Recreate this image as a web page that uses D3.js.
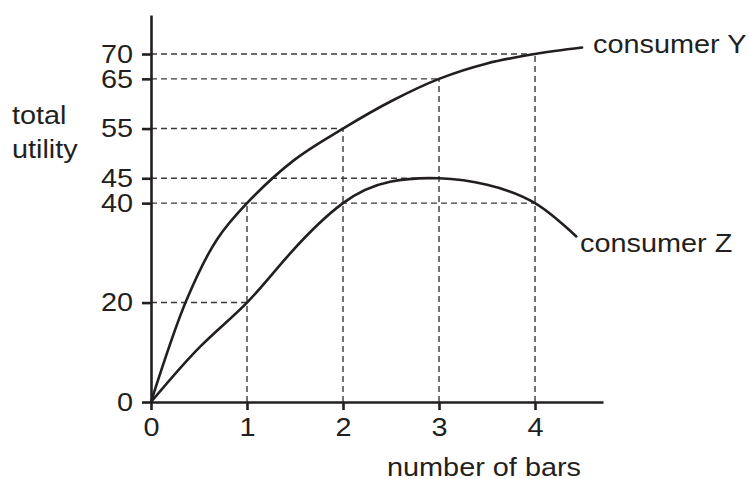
<!DOCTYPE html>
<html><head><meta charset="utf-8">
<script src="https://cdn.jsdelivr.net/npm/d3@7"></script>
<style>html,body{margin:0;padding:0;background:#fff}svg{display:block}text{font-family:"Liberation Sans",Arial,sans-serif;fill:#231f20}</style>
</head><body><svg id="c" width="749" height="479"></svg>
<script>
// data
const xTicks = [0, 1, 2, 3, 4];
const yTicks = [0, 20, 40, 45, 55, 65, 70];
const consumerYx = [0, 0.37, 0.684, 1, 1.5, 2, 2.5, 3, 3.5, 4, 4.49];
const consumerYv = [0, 20.5, 32.6, 40, 48.8, 55, 60.5, 65, 68.1, 70, 71.3];
const consumerZx = [0, 0.51, 1, 1.45, 2, 2.49, 3, 3.5, 4, 4.43];
const consumerZv = [0, 11.1, 20, 29.9, 40, 44.3, 45, 43.7, 40, 33.3];
const hGuideV = [70, 65, 55, 45, 40, 20];
const hGuideX = [4, 3, 2, 3, 4, 1];
const vGuideX = [1, 2, 3, 4];
const vGuideV = [40, 55, 65, 70];
const seriesNames = ["consumer Y", "consumer Z"];

const svg = d3.select("#c");
const x = d3.scaleLinear().domain([0, 4.708]).range([151, 603]);
const y = d3.scaleLinear().domain([0, 70]).range([402, 54]);
const yTop = 77.85;
const ink = "#231f20";
const fs = 26, sx = 1.11;

// guides
const g = svg.append("g").attr("stroke", "#3a3a3a").attr("stroke-width", 1.4).attr("stroke-dasharray", "6,4").attr("fill", "none");
hGuideV.forEach((v, i) => {
  g.append("line").attr("x1", x(0)).attr("x2", x(hGuideX[i])).attr("y1", y(v)).attr("y2", y(v));
});
vGuideX.forEach((xv, i) => {
  g.append("line").attr("x1", x(xv)).attr("x2", x(xv)).attr("y1", y(0)).attr("y2", y(vGuideV[i]));
});

// curves
const lineY = d3.line().x(d => x(d[0])).y(d => y(d[1])).curve(d3.curveCatmullRom.alpha(0.5));
const lineZ = d3.line().x(d => x(d[0])).y(d => y(d[1])).curve(d3.curveNatural);
const dataY = consumerYx.map((v, i) => [v, consumerYv[i]]);
const dataZ = consumerZx.map((v, i) => [v, consumerZv[i]]);
svg.append("path").attr("d", lineY(dataY)).attr("fill", "none").attr("stroke", ink).attr("stroke-width", 2.6).attr("stroke-linecap", "round");
svg.append("path").attr("d", lineZ(dataZ)).attr("fill", "none").attr("stroke", ink).attr("stroke-width", 2.6).attr("stroke-linecap", "round");

// axes
const xAxis = d3.axisBottom(x).tickValues(xTicks).tickSize(8).tickSizeOuter(0).tickPadding(8).tickFormat(d3.format("d"));
const xa = svg.append("g").attr("transform", `translate(0,${y(0)})`).call(xAxis);
const yScaleAxis = d3.scaleLinear().domain([0, yTop]).range([y(0), y(yTop)]);
const yAxis = d3.axisLeft(yScaleAxis).tickValues(yTicks).tickSize(9).tickSizeOuter(0).tickPadding(9).tickFormat(d3.format("d"));
const ya = svg.append("g").attr("transform", `translate(${x(0)},0)`).call(yAxis);
[xa, ya].forEach(a => {
  a.select(".domain").attr("stroke", ink).attr("stroke-width", 2.6);
  a.selectAll(".tick line").attr("stroke", ink).attr("stroke-width", 2.6);
  a.selectAll(".tick text").attr("font-size", fs).attr("font-family", '"Liberation Sans",Arial,sans-serif').attr("fill", ink)
    .each(function () {
      const t = d3.select(this);
      const tx = +t.attr("x") || 0, ty = +t.attr("y") || 0;
      t.attr("x", 0).attr("y", 0).attr("transform", `translate(${tx},${ty}) scale(${sx},1)`);
    });
});

// labels
function label(px, py, txt, anchor) {
  svg.append("text").attr("transform", `translate(${px},${py}) scale(${sx},1)`)
    .attr("font-size", fs).attr("text-anchor", anchor || "start").text(txt);
}
label(12, 124, "total");
label(12, 158, "utility");
label(484, 475.5, "number of bars", "middle");
label(593, 53, seriesNames[0]);
label(580, 252, seriesNames[1]);
</script></body></html>
